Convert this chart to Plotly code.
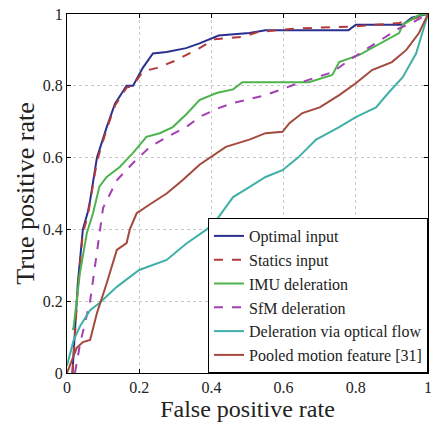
import plotly.graph_objects as go

# Data (False positive rate, True positive rate)
opt_x = [0.015, 0.02, 0.03, 0.044, 0.058, 0.064, 0.083, 0.11, 0.133, 0.165, 0.183, 0.21, 0.238, 0.276, 0.33, 0.367, 0.42, 0.505, 0.55, 0.78, 0.80, 0.93, 0.955, 1.0]
opt_y = [0.0, 0.08, 0.25, 0.40, 0.45, 0.48, 0.60, 0.685, 0.75, 0.80, 0.80, 0.85, 0.89, 0.894, 0.905, 0.918, 0.94, 0.947, 0.955, 0.955, 0.97, 0.97, 0.99, 1.0]

stat_x = [0.015, 0.02, 0.03, 0.044, 0.058, 0.083, 0.11, 0.133, 0.165, 0.183, 0.21, 0.25, 0.30, 0.367, 0.41, 0.49, 0.53, 0.64, 0.79, 0.92, 0.955, 1.0]
stat_y = [0.0, 0.07, 0.24, 0.39, 0.44, 0.59, 0.68, 0.745, 0.795, 0.80, 0.84, 0.85, 0.87, 0.905, 0.93, 0.937, 0.95, 0.96, 0.965, 0.975, 0.985, 1.0]

imu_x = [0.015, 0.018, 0.036, 0.055, 0.072, 0.09, 0.11, 0.146, 0.183, 0.22, 0.257, 0.293, 0.33, 0.367, 0.414, 0.46, 0.486, 0.597, 0.67, 0.735, 0.754, 0.81, 0.884, 0.92, 0.93, 0.975, 1.0]
imu_y = [0.12, 0.125, 0.28, 0.39, 0.445, 0.52, 0.546, 0.574, 0.613, 0.658, 0.668, 0.685, 0.72, 0.76, 0.78, 0.79, 0.81, 0.81, 0.81, 0.83, 0.866, 0.886, 0.928, 0.947, 0.97, 0.997, 1.0]

sfm_x = [0.022, 0.036, 0.064, 0.083, 0.10, 0.11, 0.138, 0.183, 0.23, 0.276, 0.33, 0.367, 0.42, 0.46, 0.55, 0.64, 0.735, 0.79, 0.856, 0.92, 0.955, 1.0]
sfm_y = [0.0, 0.08, 0.20, 0.33, 0.46, 0.48, 0.537, 0.585, 0.63, 0.657, 0.685, 0.713, 0.738, 0.752, 0.774, 0.807, 0.838, 0.877, 0.92, 0.96, 0.975, 1.0]

flow_x = [0.0, 0.018, 0.036, 0.064, 0.09, 0.138, 0.2, 0.276, 0.33, 0.387, 0.414, 0.46, 0.505, 0.55, 0.597, 0.64, 0.69, 0.754, 0.80, 0.856, 0.89, 0.93, 0.967, 0.983, 1.0]
flow_y = [0.02, 0.09, 0.13, 0.175, 0.195, 0.24, 0.287, 0.315, 0.36, 0.40, 0.426, 0.49, 0.518, 0.546, 0.565, 0.60, 0.65, 0.685, 0.713, 0.74, 0.78, 0.824, 0.89, 0.947, 1.0]

pool_x = [0.0, 0.027, 0.044, 0.064, 0.083, 0.11, 0.138, 0.165, 0.174, 0.193, 0.23, 0.276, 0.32, 0.367, 0.44, 0.505, 0.55, 0.597, 0.616, 0.652, 0.70, 0.754, 0.80, 0.845, 0.90, 0.94, 0.975, 1.0]
pool_y = [0.0, 0.07, 0.086, 0.092, 0.167, 0.25, 0.343, 0.362, 0.40, 0.445, 0.47, 0.50, 0.537, 0.58, 0.63, 0.65, 0.668, 0.672, 0.696, 0.724, 0.74, 0.774, 0.807, 0.844, 0.866, 0.90, 0.947, 1.0]

series = [
    ("Optimal input", opt_x, opt_y, "#2b2f8f", "solid"),
    ("Statics input", stat_x, stat_y, "#b33a3a", "dash"),
    ("IMU deleration", imu_x, imu_y, "#4db34d", "solid"),
    ("SfM deleration", sfm_x, sfm_y, "#a43fb3", "dash"),
    ("Deleration via optical flow", flow_x, flow_y, "#3fb0a8", "solid"),
    ("Pooled motion feature [31]", pool_x, pool_y, "#a4493d", "solid"),
]

fig = go.Figure()
for name, xs, ys, color, dash in series:
    fig.add_trace(go.Scatter(x=xs, y=ys, mode="lines", name=name,
                             line=dict(color=color, width=2, dash=dash)))

font_family = "Times New Roman"
tickvals = [0, 0.2, 0.4, 0.6, 0.8, 1]
ticktext = ["0", "0.2", "0.4", "0.6", "0.8", "1"]

axis_common = dict(
    range=[0, 1], tickvals=tickvals, ticktext=ticktext,
    showline=True, linecolor="black", linewidth=1, mirror="ticks",
    ticks="inside", ticklen=4, tickcolor="black",
    showgrid=True, gridcolor="#c8c8c8", griddash="dot", gridwidth=1,
    zeroline=False, tickfont=dict(family=font_family, size=16, color="#222"),
    automargin=False, ticklabeloverflow="allow",
)

fig.update_layout(
    width=431, height=422,
    margin=dict(l=67, r=3, t=14, b=49),
    paper_bgcolor="white", plot_bgcolor="white",
    font=dict(family=font_family, color="#222"),
    xaxis=dict(**axis_common,
               title=dict(text="False positive rate",
                          font=dict(family=font_family, size=24, color="#222"), standoff=0)),
    yaxis=dict(**axis_common, title=dict(text="True positive rate",
               font=dict(family=font_family, size=26, color="#222"), standoff=0)),
    legend=dict(x=1, y=0, xanchor="right", yanchor="bottom",
                bgcolor="white", bordercolor="black", borderwidth=1,
                font=dict(family=font_family, size=16, color="#222"),
                tracegroupgap=0, itemwidth=30),
    showlegend=True,
)

fig.write_html("out.html")
